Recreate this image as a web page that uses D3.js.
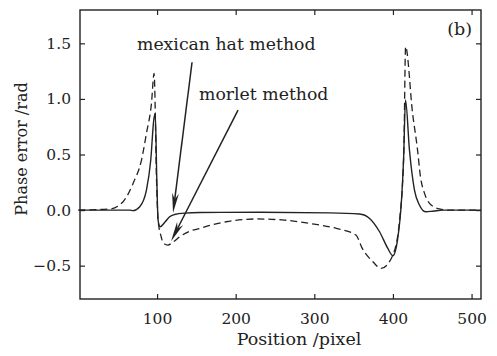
<!DOCTYPE html>
<html><head><meta charset="utf-8">
<script src="https://cdn.jsdelivr.net/npm/d3@7"></script>
<style>body{margin:0;background:#fff}svg{display:block}</style>
</head><body>
<svg id="c" width="497" height="356"></svg>
<script>
// Data (position in pixels, phase error in rad)
const xTicks = [100, 200, 300, 400, 500];
const yTicks = [-0.5, 0.0, 0.5, 1.0, 1.5];
const xLabel = "Position /pixel";
const yLabel = "Phase error /rad";
const panelLabel = "(b)";

// mexican hat method (solid)
const mexX = [0, 65.3, 69.5, 78, 86.5, 92, 95.8, 97.7, 99.6, 101.3, 104, 109.8, 116, 122.4, 135.2, 154.3, 230.5, 319.4, 357.5, 370.3, 383, 393.5, 399.9, 405.8, 410.9, 413.5, 416, 421, 427.4, 433.7, 441.4, 450.7, 463.4, 512];
const mexY = [0, 0, -0.005, 0.03, 0.18, 0.45, 0.81, 0.87, 0.3, -0.09, -0.15, -0.11, -0.06, -0.04, -0.027, -0.022, -0.02, -0.025, -0.035, -0.075, -0.195, -0.345, -0.41, -0.27, 0.09, 0.45, 0.99, 0.54, 0.18, 0.045, -0.015, -0.01, 0, 0];

// morlet method (dashed)
const morX = [0, 40, 56.8, 69.5, 80.2, 86.5, 92.9, 96.2, 99.6, 101.3, 104.7, 108.5, 113.6, 120, 128.8, 141.6, 154.3, 171, 188, 226, 262, 294, 328, 353, 361, 374.5, 385, 399.9, 408.9, 413.9, 416.1, 425, 431.3, 435, 440.2, 446.5, 459.2, 470, 512];
const morY = [0, 0.01, 0.075, 0.24, 0.45, 0.69, 0.96, 1.23, 0.2, -0.09, -0.225, -0.3, -0.315, -0.29, -0.24, -0.19, -0.165, -0.13, -0.105, -0.08, -0.09, -0.12, -0.165, -0.225, -0.345, -0.465, -0.525, -0.405, -0.06, 0.54, 1.47, 0.87, 0.54, 0.3, 0.15, 0.06, 0.01, 0, 0];

// annotations
const annNames = ["mexican hat method", "morlet method"];
const annTextX = [74.5, 153.4];
const annTextY = [1.44, 0.99];
const annFromX = [144.5, 203];
const annFromY = [1.33, 0.9];
const annToX = [120.3, 117.8];
const annToY = [-0.027, -0.28];

const svg = d3.select("#c");
const L = 80, R = 481, T = 10, B = 299;
const x = d3.scaleLinear().domain([2, 512]).range([L, R]);
const y = d3.scaleLinear().domain([-0.8, 1.8]).range([B, T]);
const font = "'DejaVu Serif', serif";
const ink = "#222";

const g = svg.append("g");
const tl = 5;
g.append("g").attr("transform", `translate(0,${B})`)
  .call(d3.axisBottom(x).tickValues(xTicks).tickSize(-tl).tickPadding(tl + 9).tickFormat(d3.format("d")))
  .call(a => { a.select(".domain").remove(); });
g.append("g").attr("transform", `translate(0,${T})`)
  .call(d3.axisTop(x).tickValues(xTicks).tickSize(-tl).tickFormat(""))
  .call(a => a.select(".domain").remove());
g.append("g").attr("transform", `translate(${L},0)`)
  .call(d3.axisLeft(y).tickValues(yTicks).tickSize(-tl).tickPadding(tl + 4).tickFormat(d => d3.format(".1f")(d).replace("-", "\u2212")))
  .call(a => a.select(".domain").remove());
g.append("g").attr("transform", `translate(${R},0)`)
  .call(d3.axisRight(y).tickValues(yTicks).tickSize(-tl).tickFormat(""))
  .call(a => a.select(".domain").remove());
g.selectAll(".tick line").attr("stroke", ink).attr("stroke-width", 1.2);
g.selectAll(".tick text").attr("font-family", font).attr("font-size", 15.5).attr("fill", ink);

svg.append("rect").attr("x", L).attr("y", T).attr("width", R - L).attr("height", B - T)
  .attr("fill", "none").attr("stroke", ink).attr("stroke-width", 1.4);

const line = d3.line().x(d => x(d[0])).y(d => y(d[1])).curve(d3.curveMonotoneX);
const mex = mexX.map((v, i) => [v, mexY[i]]);
const mor = morX.map((v, i) => [v, morY[i]]);
svg.append("path").attr("d", line(mor)).attr("fill", "none").attr("stroke", ink)
  .attr("stroke-width", 1.3).attr("stroke-dasharray", "7,4");
svg.append("path").attr("d", line(mex)).attr("fill", "none").attr("stroke", ink)
  .attr("stroke-width", 1.4);

annNames.forEach((t, i) => {
  svg.append("text").attr("x", x(annTextX[i])).attr("y", y(annTextY[i]))
    .attr("font-family", font).attr("font-size", 17.3).attr("fill", ink).text(t);
  const x0 = x(annFromX[i]), y0 = y(annFromY[i]), x1 = x(annToX[i]), y1 = y(annToY[i]);
  const ang = Math.atan2(y1 - y0, x1 - x0);
  const hl = 20, hw = 3.4;
  const bx = x1 - hl * Math.cos(ang), by = y1 - hl * Math.sin(ang);
  svg.append("line").attr("x1", x0).attr("y1", y0).attr("x2", bx + 0.3*hl*Math.cos(ang)).attr("y2", by + 0.3*hl*Math.sin(ang))
    .attr("stroke", ink).attr("stroke-width", 1.5);
  const px = -Math.sin(ang) * hw, py = Math.cos(ang) * hw;
  svg.append("path").attr("d", `M${x1},${y1}L${bx + px},${by + py}L${bx + 0.3*hl*Math.cos(ang)},${by + 0.3*hl*Math.sin(ang)}L${bx - px},${by - py}Z`)
    .attr("fill", ink);
});

svg.append("text").attr("x", 472).attr("y", 35).attr("text-anchor", "end")
  .attr("font-family", font).attr("font-size", 17.5).attr("fill", ink).text(panelLabel);
svg.append("text").attr("x", 299).attr("y", 345).attr("text-anchor", "middle")
  .attr("font-family", font).attr("font-size", 17.5).attr("fill", ink).text(xLabel);
svg.append("text").attr("transform", "translate(27,149) rotate(-90)").attr("text-anchor", "middle")
  .attr("font-family", font).attr("font-size", 16).attr("fill", ink).text(yLabel);
</script>
</body></html>
